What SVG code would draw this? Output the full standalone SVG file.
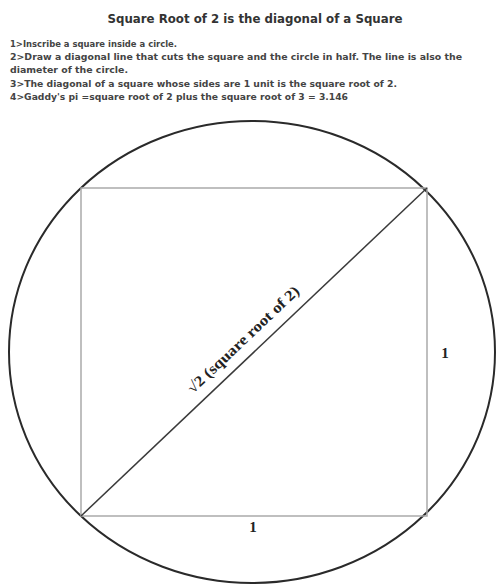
<svg xmlns="http://www.w3.org/2000/svg" width="498" height="585" viewBox="0 0 498 585">
<style>
.title{font-family:"DejaVu Sans",Verdana,sans-serif;font-size:11.5px;font-weight:bold;fill:#333}
.body{font-family:"DejaVu Sans",Verdana,sans-serif;font-size:8.5px;font-weight:bold;fill:#444}
.lbl{font-family:"Liberation Serif","Times New Roman",serif;font-size:15px;font-weight:bold;fill:#222}
.circ{fill:none;stroke:#2a2a2a;stroke-width:2}
.sq{fill:none;stroke:#aaaaaa;stroke-width:1.5}
.diag{stroke:#3a3a3a;stroke-width:1.5}
</style>
<rect width="498" height="585" fill="#ffffff"/>
<g id="header">
<text class="title" x="255" y="23" text-anchor="middle" textLength="295" lengthAdjust="spacingAndGlyphs">Square Root of 2 is the diagonal of a Square</text>
<text class="body" x="10" y="47" textLength="167" lengthAdjust="spacingAndGlyphs">1&gt;Inscribe a square inside a circle.</text>
<text class="body" x="10" y="60" textLength="452" lengthAdjust="spacingAndGlyphs">2&gt;Draw a diagonal line that cuts the square and the circle in half.  The line is also the</text>
<text class="body" x="10" y="73" textLength="118" lengthAdjust="spacingAndGlyphs">diameter of the circle.</text>
<text class="body" x="10" y="87" textLength="387" lengthAdjust="spacingAndGlyphs">3&gt;The diagonal of a square whose sides are 1 unit is the square root of 2.</text>
<text class="body" x="10" y="100" textLength="338" lengthAdjust="spacingAndGlyphs">4&gt;Gaddy's pi =square root of 2 plus the square root of 3 = 3.146</text>
</g>
<g id="circle">
<ellipse class="circ" cx="252" cy="352" rx="243" ry="231"/>
</g>
<g id="square">
<rect class="sq" x="81" y="188" width="346" height="328"/>
</g>
<g id="connectors">
<line class="diag" x1="81" y1="516" x2="427" y2="188"/>
</g>
<g id="labels">
<text class="lbl" transform="translate(193,394) rotate(-43.5)" textLength="148" lengthAdjust="spacingAndGlyphs">√2  (square root of 2)</text>
<text class="lbl" x="253" y="532" text-anchor="middle">1</text>
<text class="lbl" x="445" y="358" text-anchor="middle">1</text>
</g>
</svg>
